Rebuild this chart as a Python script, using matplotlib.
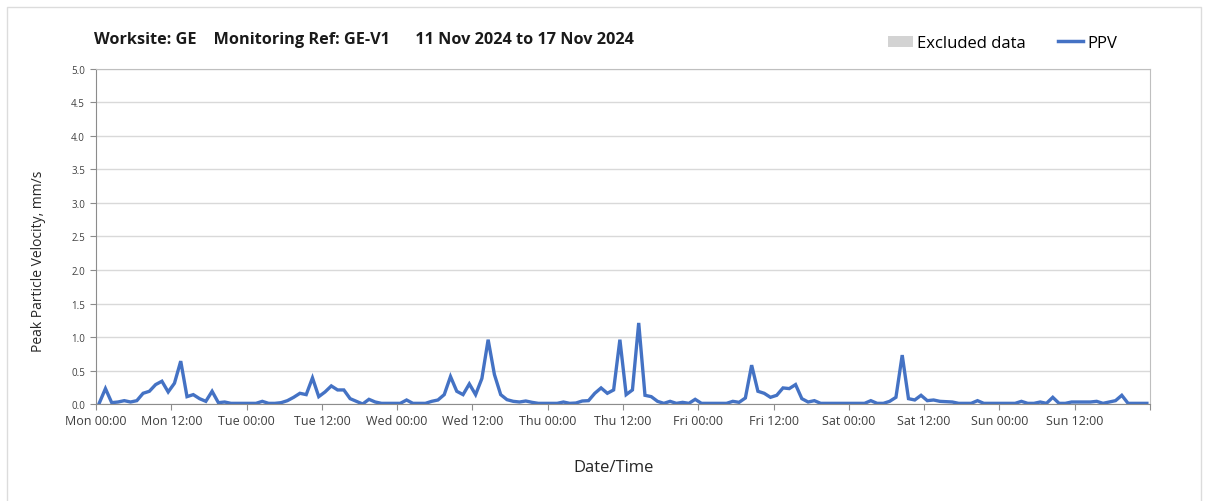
import matplotlib.pyplot as plt
import numpy as np
from matplotlib.patches import Patch, Rectangle
from matplotlib.lines import Line2D

plt.rcParams['font.family'] = ['Open Sans', 'DejaVu Sans']

# hourly PPV values (mm/s), one row per day, Mon..Sun, sample at hh:30
mon = [0.01, 0.23, 0.02, 0.03, 0.05, 0.03, 0.05, 0.16, 0.19, 0.29, 0.34, 0.18,
       0.31, 0.64, 0.11, 0.14, 0.08, 0.04, 0.19, 0.02, 0.03, 0.01, 0.01, 0.01]
tue = [0.01, 0.01, 0.04, 0.01, 0.01, 0.02, 0.05, 0.10, 0.16, 0.14, 0.39, 0.11,
       0.18, 0.27, 0.21, 0.21, 0.08, 0.04, 0.00, 0.07, 0.03, 0.01, 0.01, 0.01]
wed = [0.01, 0.06, 0.01, 0.01, 0.01, 0.04, 0.06, 0.14, 0.41, 0.19, 0.14, 0.30,
       0.14, 0.38, 0.96, 0.44, 0.14, 0.065, 0.04, 0.03, 0.045, 0.025, 0.01, 0.01]
thu = [0.01, 0.01, 0.03, 0.01, 0.015, 0.045, 0.05, 0.16, 0.24, 0.16, 0.21, 0.96,
       0.14, 0.21, 1.21, 0.13, 0.11, 0.04, 0.01, 0.04, 0.01, 0.025, 0.01, 0.07]
fri = [0.01, 0.01, 0.01, 0.01, 0.01, 0.04, 0.025, 0.09, 0.58, 0.19, 0.16, 0.10,
       0.13, 0.24, 0.23, 0.29, 0.08, 0.03, 0.05, 0.01, 0.01, 0.01, 0.01, 0.01]
sat = [0.01, 0.01, 0.01, 0.05, 0.01, 0.01, 0.04, 0.10, 0.73, 0.08, 0.06, 0.13,
       0.05, 0.06, 0.04, 0.035, 0.03, 0.01, 0.01, 0.01, 0.05, 0.01, 0.01, 0.01]
sun = [0.01, 0.01, 0.01, 0.04, 0.01, 0.01, 0.03, 0.01, 0.10, 0.01, 0.01, 0.03,
       0.03, 0.03, 0.03, 0.04, 0.01, 0.03, 0.05, 0.13, 0.01, 0.01, 0.01, 0.01]

days = ['Mon', 'Tue', 'Wed', 'Thu', 'Fri', 'Sat', 'Sun']
excluded = []  # (start_hour, end_hour) spans of excluded data - none this week

ppv = np.array(mon + tue + wed + thu + fri + sat + sun)
hours = np.arange(len(ppv)) + 0.5

tick_pos = np.arange(0, 169, 12)
tick_labels = []
for d in days:
    tick_labels += [d + ' 00:00', d + ' 12:00']
tick_labels.append('')

blue = '#4472C4'
grid_c = '#D9D9D9'
axis_c = '#8C8C8C'

fig = plt.figure(figsize=(12.08, 5.02), dpi=100)
fig.patches.append(Rectangle((0.006, -0.05), 0.988, 1.035, transform=fig.transFigure,
                             fill=False, edgecolor='#DCDCDC', linewidth=1))
ax = fig.add_axes([0.0795, 0.1932, 0.8725, 0.6674])

for s, e in excluded:
    ax.axvspan(s, e, color='#D3D3D3', lw=0)

ax.plot(hours, ppv, color=blue, linewidth=2.4, solid_joinstyle='miter')

ax.set_xlim(0, 168)
ax.set_ylim(0, 5)
ax.set_yticks(np.arange(0, 5.01, 0.5))
ax.set_yticklabels(['%.1f' % v for v in np.arange(0, 5.01, 0.5)], fontsize=7, color='#404040')
ax.set_xticks(tick_pos)
ax.set_xticklabels(tick_labels, fontsize=9, color='#404040')
ax.set_xticks(np.arange(24, 168, 24), minor=True)

ax.grid(False)
ax.grid(True, which='minor', axis='x', color=grid_c, linewidth=1)
ax.grid(True, which='major', axis='y', color=grid_c, linewidth=1)
ax.tick_params(axis='x', which='major', length=4, color=axis_c, pad=3)
ax.tick_params(axis='x', which='minor', length=0)
ax.tick_params(axis='y', length=4, color=axis_c, pad=4)
for side in ['left', 'bottom']:
    ax.spines[side].set_color(axis_c)
for side in ['top', 'right']:
    ax.spines[side].set_color('#BFBFBF')
ax.set_axisbelow(True)

ax.set_xlabel('Date/Time', fontsize=12, color='#262626')
ax.xaxis.set_label_coords(0.491, -0.165)
ax.set_ylabel('Peak Particle Velocity, mm/s', fontsize=10, color='#262626')
ax.yaxis.set_label_coords(-0.047, 0.43)

fig.text(0.078, 0.92, 'Worksite: GE    Monitoring Ref: GE-V1      11 Nov 2024 to 17 Nov 2024',
         fontsize=11.7, fontweight='bold', color='#1a1a1a', va='center')

handles = [Patch(facecolor='#D3D3D3', edgecolor='none'),
           Line2D([], [], color=blue, linewidth=2.5)]
fig.legend(handles, ['Excluded data', 'PPV'], loc='center right',
           bbox_to_anchor=(0.937, 0.912), ncol=2, frameon=False, fontsize=12,
           handlelength=1.5, handletextpad=0.25, columnspacing=1.9)

fig.savefig('out.png', dpi=100)
